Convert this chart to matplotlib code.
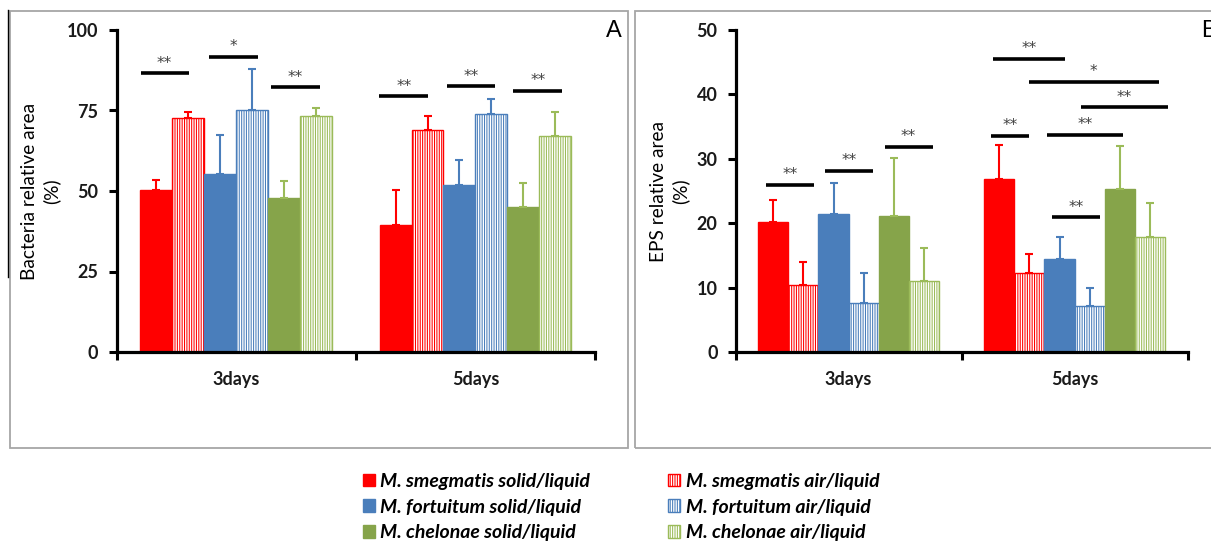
import matplotlib
matplotlib.use("Agg")
import matplotlib.pyplot as plt
from matplotlib.patches import Rectangle
from matplotlib.lines import Line2D
import numpy as np

# ---------------- data ----------------
categories = ["3days", "5days"]

# Panel A: Bacteria relative area (%)
bact_smeg_solid = [50.4, 39.4]
bact_smeg_solid_err = [3.0, 10.9]
bact_smeg_air = [72.6, 69.0]
bact_smeg_air_err = [1.8, 4.4]
bact_fort_solid = [55.2, 51.8]
bact_fort_solid_err = [12.3, 7.8]
bact_fort_air = [75.2, 73.8]
bact_fort_air_err = [12.7, 4.7]
bact_chel_solid = [47.9, 45.0]
bact_chel_solid_err = [5.3, 7.5]
bact_chel_air = [73.3, 67.2]
bact_chel_air_err = [2.4, 7.4]

# Panel B: EPS relative area (%)
eps_smeg_solid = [20.2, 26.9]
eps_smeg_solid_err = [3.4, 5.3]
eps_smeg_air = [10.4, 12.2]
eps_smeg_air_err = [3.6, 3.0]
eps_fort_solid = [21.5, 14.5]
eps_fort_solid_err = [4.8, 3.4]
eps_fort_air = [7.6, 7.1]
eps_fort_air_err = [4.7, 2.8]
eps_chel_solid = [21.1, 25.3]
eps_chel_solid_err = [9.0, 6.7]
eps_chel_air = [11.1, 17.8]
eps_chel_air_err = [5.0, 5.4]

series_labels = [
    "M. smegmatis solid/liquid", "M. smegmatis air/liquid",
    "M. fortuitum solid/liquid", "M. fortuitum air/liquid",
    "M. chelonae solid/liquid", "M. chelonae air/liquid",
]

# significance brackets (x in category units, y in data units)
sig_A_x0 = [-0.399, -0.112, 0.147, 0.599, 0.880, 1.159]
sig_A_x1 = [-0.199, 0.091, 0.350, 0.804, 1.082, 1.363]
sig_A_y = [86.5, 91.7, 82.2, 79.4, 82.5, 81.1]
sig_A_lab = ["**", "*", "**", "**", "**", "**"]

sig_B_x0 = [-0.364, -0.103, 0.159, 0.639, 0.798, 1.030, 0.631, 0.880, 0.902]
sig_B_x1 = [-0.152, 0.110, 0.372, 0.959, 1.372, 1.413, 0.800, 1.213, 1.112]
sig_B_y = [25.9, 28.1, 31.9, 45.5, 41.9, 38.0, 33.6, 33.7, 20.9]
sig_B_lab = ["**", "**", "**", "**", "*", "**", "**", "**", "**"]

yticks_A = [0, 25, 50, 75, 100]
yticks_B = [0, 10, 20, 30, 40, 50]

# ---------------- style ----------------
plt.rcParams["font.family"] = ["Lato", "DejaVu Sans"]
plt.rcParams["hatch.linewidth"] = 0.75

RED = "#FF0000"
BLUE = "#4A7EBB"
GREEN = "#86A44A"
LGREEN = "#9BBB59"
face_cols = [RED, "white", BLUE, "white", GREEN, "white"]
edge_cols = [RED, RED, BLUE, BLUE, GREEN, LGREEN]
err_cols = [RED, RED, BLUE, BLUE, LGREEN, LGREEN]
hatches = [None, "|||||||", None, "|||||||", None, "|||||||"]

W, H = 1211, 543
fig = plt.figure(figsize=(W / 100, H / 100), dpi=100)


def fx(px):
    return px / W


def fy(py):
    return 1 - py / H


# panel frames
frame_col = "#A6A6A6"
fig.add_artist(Rectangle((fx(10), fy(448)), fx(628) - fx(10), fy(11) - fy(448),
                         transform=fig.transFigure, fill=False, ec=frame_col, lw=1.3))
fig.add_artist(Rectangle((fx(634.5), fy(448)), fx(1216) - fx(634.5), fy(11) - fy(448),
                         transform=fig.transFigure, fill=False, ec=frame_col, lw=1.3))
fig.add_artist(Line2D([fx(7.5), fx(7.5)], [fy(10), fy(277)], transform=fig.transFigure,
                      color="black", lw=1.0))


def draw_panel(ax, means, errs, ylim, yticks, sx0, sx1, sy, slab, ylabel, letter,
               letter_xy, ylabel_xy):
    x = np.arange(len(categories))
    n = len(means)
    width = 0.8 / n
    for i in range(n):
        pos = x + (i - (n - 1) / 2) * width
        ax.bar(pos, means[i], width, color=face_cols[i], edgecolor=edge_cols[i],
               hatch=hatches[i], linewidth=1.0, label=series_labels[i], zorder=2)
        ax.errorbar(pos, means[i], yerr=[np.zeros(len(x)), errs[i]], fmt="none",
                    ecolor=err_cols[i], elinewidth=1.5, capsize=3, capthick=1.5,
                    zorder=3)
    ax.set_xlim(-0.5, 1.5)
    ax.set_ylim(*ylim)
    ax.set_yticks(yticks)
    ax.set_xticks(x)
    ax.set_xticklabels(categories, fontsize=13, fontweight="bold", color="#1a1a1a")
    ax.set_xticks([-0.5, 0.5, 1.5], minor=True)
    ax.tick_params(axis="x", which="major", length=0, pad=14)
    ax.tick_params(axis="x", which="minor", length=6, width=2.2, direction="out")
    ax.tick_params(axis="y", length=6, width=2.2, direction="out", pad=7,
                   labelsize=13)
    for t in ax.get_yticklabels():
        t.set_fontweight("bold")
        t.set_color("#1a1a1a")
    for s in ["top", "right"]:
        ax.spines[s].set_visible(False)
    for s in ["left", "bottom"]:
        ax.spines[s].set_linewidth(2.3)
        ax.spines[s].set_zorder(5)
    for a, b, yy, lab in zip(sx0, sx1, sy, slab):
        ax.plot([a, b], [yy, yy], color="black", lw=2.6, solid_capstyle="butt",
                zorder=4, clip_on=False)
        ax.annotate(lab, xy=((a + b) / 2, yy), xytext=(0, 2), textcoords="offset points",
                    ha="center", va="bottom", fontsize=11, color="#404040",
                    family=["DejaVu Sans"], annotation_clip=False)
    fig.text(fx(ylabel_xy[0]), fy(ylabel_xy[1]), ylabel, rotation=90, ha="center",
             va="center", fontsize=13.8, linespacing=1.3)
    fig.text(fx(letter_xy[0]), fy(letter_xy[1]), letter, ha="left", va="center",
             fontsize=17, family=["Liberation Sans", "DejaVu Sans"])


axA = fig.add_axes([fx(116.5), fy(352), fx(595) - fx(116.5), fy(30) - fy(352)])
draw_panel(axA,
           [bact_smeg_solid, bact_smeg_air, bact_fort_solid, bact_fort_air,
            bact_chel_solid, bact_chel_air],
           [bact_smeg_solid_err, bact_smeg_air_err, bact_fort_solid_err,
            bact_fort_air_err, bact_chel_solid_err, bact_chel_air_err],
           (0, 100), yticks_A, sig_A_x0, sig_A_x1, sig_A_y, sig_A_lab,
           "Bacteria relative area\n(%)", "A", (606, 31), (41, 191))

axB = fig.add_axes([fx(735.6), fy(352), fx(1187.6) - fx(735.6), fy(30) - fy(352)])
draw_panel(axB,
           [eps_smeg_solid, eps_smeg_air, eps_fort_solid, eps_fort_air,
            eps_chel_solid, eps_chel_air],
           [eps_smeg_solid_err, eps_smeg_air_err, eps_fort_solid_err,
            eps_fort_air_err, eps_chel_solid_err, eps_chel_air_err],
           (0, 50), yticks_B, sig_B_x0, sig_B_x1, sig_B_y, sig_B_lab,
           "EPS relative area\n(%)", "B", (1201, 31), (670, 191))

# legend: left column solid, right column air/liquid
handles, labels = axA.get_legend_handles_labels()
order = [0, 2, 4, 1, 3, 5]
leg = fig.legend([handles[i] for i in order], [labels[i] for i in order],
                 loc="center", bbox_to_anchor=(fx(621), fy(507)), ncol=2,
                 frameon=False, handlelength=0.62, handleheight=0.62,
                 handletextpad=0.28, columnspacing=4.0, labelspacing=0.45,
                 borderpad=0, prop={"size": 14, "weight": "bold", "style": "italic"})

fig.savefig("out.png", dpi=100)
